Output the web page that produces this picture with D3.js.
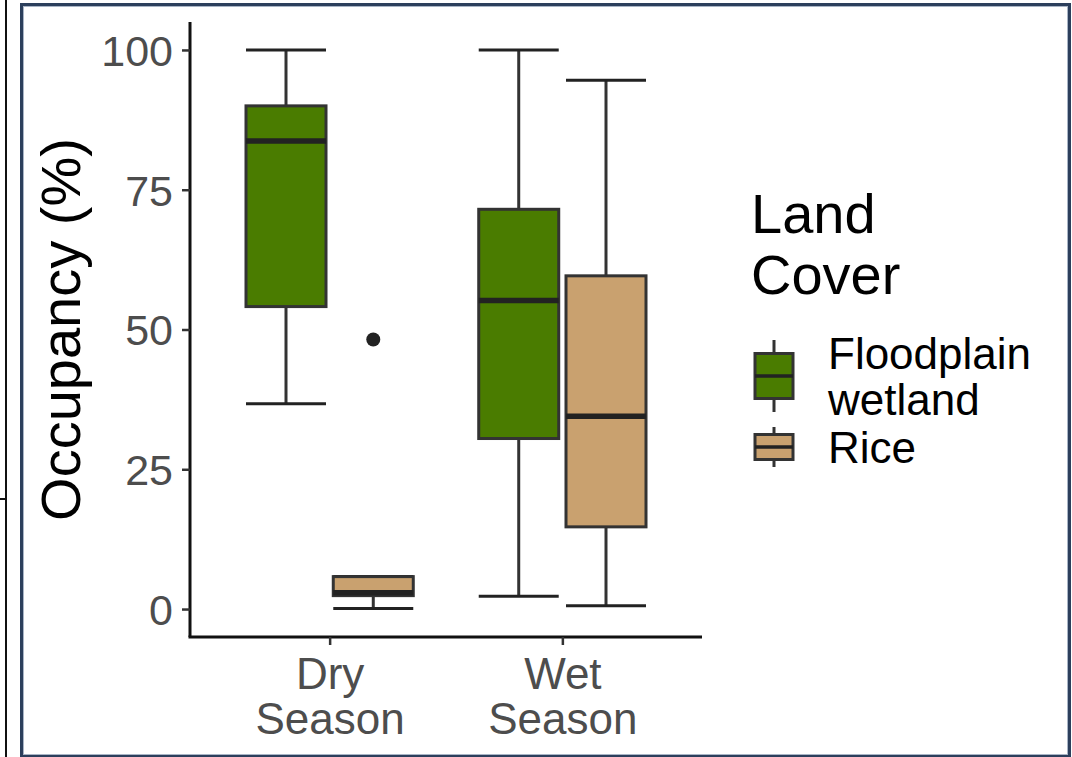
<!DOCTYPE html>
<html>
<head>
<meta charset="utf-8">
<script src="https://cdn.jsdelivr.net/npm/d3@7"></script>
<style>
  body { margin: 0; background: #fff; }
  svg { display: block; }
  text { font-family: "Liberation Sans", Arial, sans-serif; }
</style>
</head>
<body>
<script>
// categories and series
const seasons = ["Dry Season", "Wet Season"];
const covers = ["Floodplain wetland", "Rice"];
const coverColors = ["#4a7c00", "#c9a16f"];

// five-number summaries per season: [lower whisker, q1, median, q3, upper whisker]
const floodplainBox = [
  [36.7, 54.1, 83.7, 90.0, 100],
  [2.3, 30.5, 55.2, 71.5, 100]
];
const riceBox = [
  [0.1, 2.4, 2.9, 5.8, 5.8],
  [0.6, 14.7, 34.5, 59.6, 94.6]
];
const floodplainOutliers = [[], []];
const riceOutliers = [[48.2], []];

const yTicks = [0, 25, 50, 75, 100];

var w = 1072;
var h = 757;

var svg = d3.select("body").append("svg")
  .attr("width", w)
  .attr("height", h);

// outer frame lines from the screenshot
svg.append("line")
  .attr("x1", 6).attr("x2", 6).attr("y1", 0).attr("y2", h)
  .attr("stroke", "#111").attr("stroke-width", 2);
svg.append("line")
  .attr("x1", 0).attr("x2", 6).attr("y1", 499).attr("y2", 499)
  .attr("stroke", "#111").attr("stroke-width", 2);
svg.append("rect")
  .attr("x", 21.5).attr("y", 4.5).attr("width", 1048).attr("height", 752)
  .attr("fill", "none").attr("stroke", "#2c3f5c").attr("stroke-width", 3);
svg.append("rect")
  .attr("x", 23.5).attr("y", 6.5).attr("width", 1044).attr("height", 748)
  .attr("fill", "none").attr("stroke", "#a9b5c6").attr("stroke-width", 1);

var x = d3.scalePoint()
  .domain(seasons)
  .range([190, 702])
  .padding(0.6);

var dodge = d3.scaleBand()
  .domain(covers)
  .range([-x.step() * 0.375, x.step() * 0.375]);

var boxW = 80;

var y = d3.scaleLinear()
  .domain([-5, 105])
  .range([637, 22]);

var series = [
  { name: covers[0], color: coverColors[0], stats: floodplainBox, out: floodplainOutliers },
  { name: covers[1], color: coverColors[1], stats: riceBox, out: riceOutliers }
];

var outline = "#333333";

// boxes
series.forEach(function(s) {
  var g = svg.append("g").classed("series", true);
  s.stats.forEach(function(st, i) {
    var cx = x(seasons[i]) + dodge(s.name) + dodge.bandwidth() / 2;
    var x0 = cx - boxW / 2;
    // whiskers
    g.append("line")
      .attr("x1", cx).attr("x2", cx)
      .attr("y1", y(st[3])).attr("y2", y(st[4]))
      .attr("stroke", outline).attr("stroke-width", 3);
    g.append("line")
      .attr("x1", cx).attr("x2", cx)
      .attr("y1", y(st[1])).attr("y2", y(st[0]))
      .attr("stroke", outline).attr("stroke-width", 3);
    // caps
    [st[0], st[4]].forEach(function(v) {
      g.append("line")
        .attr("x1", x0).attr("x2", x0 + boxW)
        .attr("y1", y(v)).attr("y2", y(v))
        .attr("stroke", "#222").attr("stroke-width", 3);
    });
    g.append("rect")
      .attr("x", x0).attr("width", boxW)
      .attr("y", y(st[3])).attr("height", y(st[1]) - y(st[3]))
      .attr("fill", s.color)
      .attr("stroke", outline).attr("stroke-width", 3);
    g.append("line")
      .attr("x1", x0).attr("x2", x0 + boxW)
      .attr("y1", y(st[2])).attr("y2", y(st[2]))
      .attr("stroke", "#222").attr("stroke-width", 5.5);
    s.out[i].forEach(function(v) {
      g.append("circle")
        .attr("cx", cx).attr("cy", y(v)).attr("r", 7)
        .attr("fill", "#222");
    });
  });
});

// y axis
var yAxis = svg.append("g")
  .attr("transform", "translate(190,0)")
  .call(d3.axisLeft(y).tickValues(yTicks).tickSize(8).tickPadding(9).tickSizeOuter(0));
yAxis.select(".domain").attr("stroke", "#111").attr("stroke-width", 3)
  .attr("d", "M0," + y(-5) + "V" + y(105));
yAxis.selectAll(".tick line").attr("stroke", "#333").attr("stroke-width", 2.5);
yAxis.selectAll(".tick text")
  .attr("fill", "#4d4d4d")
  .style("font-size", "43px")
  .attr("dy", "0.36em");

// x axis
var xAxis = svg.append("g")
  .attr("transform", "translate(0,637)")
  .call(d3.axisBottom(x).tickSize(8).tickSizeOuter(0));
xAxis.select(".domain").attr("stroke", "#111").attr("stroke-width", 3)
  .attr("d", "M188.5,0H702");
xAxis.selectAll(".tick line").attr("stroke", "#333").attr("stroke-width", 2.5);
xAxis.selectAll(".tick text").remove();
xAxis.selectAll(".tick").each(function(d) {
  var t = d3.select(this).append("text")
    .attr("fill", "#4d4d4d")
    .attr("text-anchor", "middle")
    .style("font-size", "44px");
  d.split(" ").forEach(function(word, k) {
    t.append("tspan").attr("x", 0).attr("y", 52 + k * 45).text(word);
  });
});

// y axis title
svg.append("text")
  .attr("transform", "translate(80," + (y(50)) + ") rotate(-90)")
  .attr("text-anchor", "middle")
  .attr("fill", "#000")
  .style("font-size", "56px")
  .text("Occupancy (%)");

// legend
var legend = svg.append("g");
legend.append("text")
  .attr("x", 751)
  .attr("fill", "#000")
  .style("font-size", "56px")
  .selectAll("tspan")
  .data(["Land", "Cover"])
  .join("tspan")
  .attr("x", 751)
  .attr("y", (d, i) => 233 + i * 61)
  .text(d => d);

var keyTops = [331, 422];
var keyHeights = [90, 50];
var labelLines = [["Floodplain", "wetland"], ["Rice"]];
var keyCx = 774;
var keyBoxW = 38;

series.forEach(function(s, i) {
  var top = keyTops[i];
  var kh = keyHeights[i];
  var kg = legend.append("g");
  kg.append("line")
    .attr("x1", keyCx).attr("x2", keyCx)
    .attr("y1", top + kh * 0.1).attr("y2", top + kh * 0.9)
    .attr("stroke", outline).attr("stroke-width", 3);
  kg.append("rect")
    .attr("x", keyCx - keyBoxW / 2).attr("width", keyBoxW)
    .attr("y", top + kh * 0.25).attr("height", kh * 0.5)
    .attr("fill", s.color).attr("stroke", outline).attr("stroke-width", 3);
  kg.append("line")
    .attr("x1", keyCx - keyBoxW / 2).attr("x2", keyCx + keyBoxW / 2)
    .attr("y1", top + kh * 0.5).attr("y2", top + kh * 0.5)
    .attr("stroke", "#222").attr("stroke-width", 3.5);
  var lines = labelLines[i];
  var mid = top + kh / 2;
  var gap = 46;
  var first = mid - (lines.length - 1) * gap / 2 + 15.8;
  kg.append("text")
    .attr("fill", "#000")
    .style("font-size", "44px")
    .selectAll("tspan")
    .data(lines)
    .join("tspan")
    .attr("x", 828)
    .attr("y", (d, k) => first + k * gap)
    .text(d => d);
});
</script>
</body>
</html>
